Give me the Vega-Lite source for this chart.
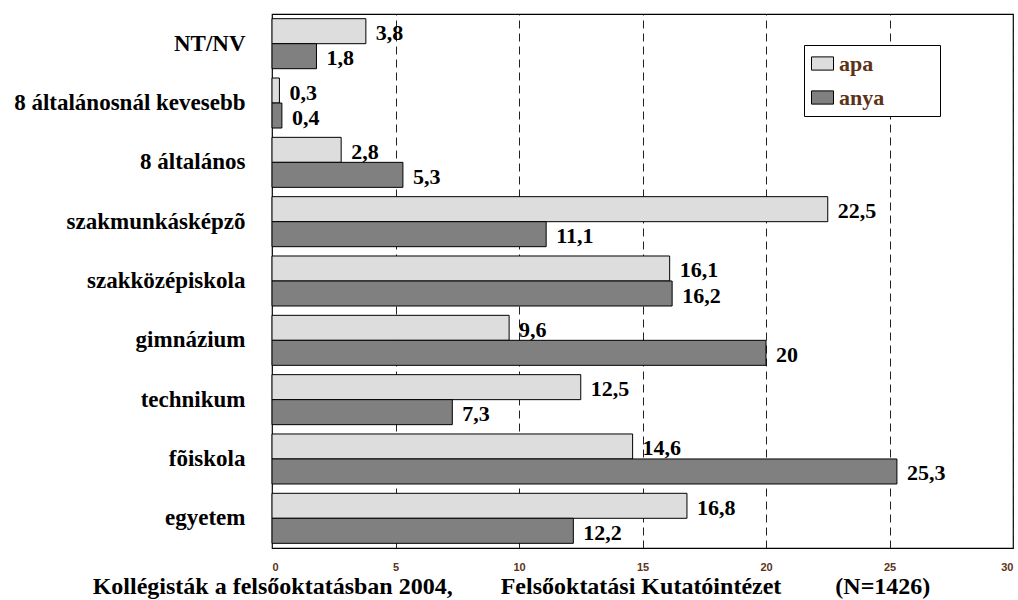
{
  "$schema": "https://vega.github.io/schema/vega-lite/v6.json",
  "autosize": {"type": "none"},
  "padding": {"left": 272, "top": 14, "right": 5, "bottom": 52},
  "width": 741,
  "height": 534,
  "background": "white",
  "title": {
    "text": "Kollégisták a felsőoktatásban 2004,\u00a0\u00a0\u00a0\u00a0\u00a0\u00a0\u00a0\u00a0Felsőoktatási Kutatóintézet\u00a0\u00a0\u00a0\u00a0\u00a0\u00a0\u00a0\u00a0\u00a0(N=1426)",
    "orient": "bottom",
    "anchor": "middle",
    "dx": -131,
    "offset": 3,
    "font": "Liberation Serif",
    "fontSize": 24,
    "fontWeight": "bold",
    "color": "#000000"
  },
  "config": {
    "locale": {"number": {"decimal": ",", "thousands": " ", "grouping": [3], "currency": ["", ""]}},
    "view": {"stroke": "#000000", "strokeWidth": 1.2},
    "font": "Liberation Serif"
  },
  "data": {
    "values": [
      {"kategoria": "NT/NV", "szulo": "apa", "ertek": 3.8},
      {"kategoria": "NT/NV", "szulo": "anya", "ertek": 1.8},
      {"kategoria": "8 általánosnál kevesebb", "szulo": "apa", "ertek": 0.3},
      {"kategoria": "8 általánosnál kevesebb", "szulo": "anya", "ertek": 0.4},
      {"kategoria": "8 általános", "szulo": "apa", "ertek": 2.8},
      {"kategoria": "8 általános", "szulo": "anya", "ertek": 5.3},
      {"kategoria": "szakmunkásképzõ", "szulo": "apa", "ertek": 22.5},
      {"kategoria": "szakmunkásképzõ", "szulo": "anya", "ertek": 11.1},
      {"kategoria": "szakközépiskola", "szulo": "apa", "ertek": 16.1},
      {"kategoria": "szakközépiskola", "szulo": "anya", "ertek": 16.2},
      {"kategoria": "gimnázium", "szulo": "apa", "ertek": 9.6},
      {"kategoria": "gimnázium", "szulo": "anya", "ertek": 20},
      {"kategoria": "technikum", "szulo": "apa", "ertek": 12.5},
      {"kategoria": "technikum", "szulo": "anya", "ertek": 7.3},
      {"kategoria": "fõiskola", "szulo": "apa", "ertek": 14.6},
      {"kategoria": "fõiskola", "szulo": "anya", "ertek": 25.3},
      {"kategoria": "egyetem", "szulo": "apa", "ertek": 16.8},
      {"kategoria": "egyetem", "szulo": "anya", "ertek": 12.2}
    ]
  },
  "encoding": {
    "y": {
      "field": "kategoria",
      "type": "nominal",
      "sort": null,
      "scale": {"paddingInner": 0.157, "paddingOuter": 0.079},
      "axis": {
        "title": null,
        "domain": false,
        "ticks": false,
        "labelPadding": 27,
        "labelFont": "Liberation Serif",
        "labelFontSize": 23,
        "labelFontWeight": "bold",
        "labelColor": "#000000",
        "labelLimit": 400
      }
    },
    "yOffset": {
      "field": "szulo",
      "type": "nominal",
      "sort": ["apa", "anya"],
      "scale": {"paddingInner": 0, "paddingOuter": 0}
    },
    "x": {
      "field": "ertek",
      "type": "quantitative",
      "scale": {"domain": [0, 30], "nice": false, "zero": true},
      "axis": {
        "title": null,
        "values": [0, 5, 10, 15, 20, 25, 30],
        "domain": false,
        "ticks": false,
        "grid": true,
        "gridColor": "#222222",
        "gridDash": [8, 5],
        "gridWidth": 1,
        "labelPadding": 13,
        "labelFont": "Liberation Sans",
        "labelFontSize": 11,
        "labelFontWeight": "bold",
        "labelColor": "#5c3317",
        "format": "d"
      }
    }
  },
  "layer": [
    {
      "mark": {"type": "bar", "stroke": "#000000", "strokeWidth": 1},
      "encoding": {
        "color": {
          "field": "szulo",
          "type": "nominal",
          "scale": {"domain": ["apa", "anya"], "range": ["#dddddd", "#808080"]},
          "legend": {
            "title": null,
            "orient": "none",
            "legendX": 532,
            "legendY": 31,
            "direction": "vertical",
            "fillColor": "#ffffff",
            "strokeColor": "#000000",
            "padding": 7,
            "symbolType": "M-1,-0.6H1V0.6H-1Z",
            "symbolSize": 484,
            "symbolStrokeColor": "#000000",
            "symbolStrokeWidth": 1,
            "symbolOffset": 0,
            "labelOffset": 5,
            "rowPadding": 11,
            "labelLimit": 300,
            "labelFont": "Liberation Serif",
            "labelFontSize": 22,
            "labelFontWeight": "bold",
            "labelColor": "#5c3317",
            "labelExpr": "datum.label + '\u2800\u2800\u2800'"
          }
        }
      }
    },
    {
      "mark": {
        "type": "text",
        "align": "left",
        "baseline": "middle",
        "dx": 10,
        "dy": 2,
        "font": "Liberation Serif",
        "fontSize": 22,
        "fontWeight": "bold",
        "color": "#000000"
      },
      "encoding": {
        "text": {"field": "ertek", "type": "quantitative", "format": ".3~g"}
      }
    }
  ]
}
